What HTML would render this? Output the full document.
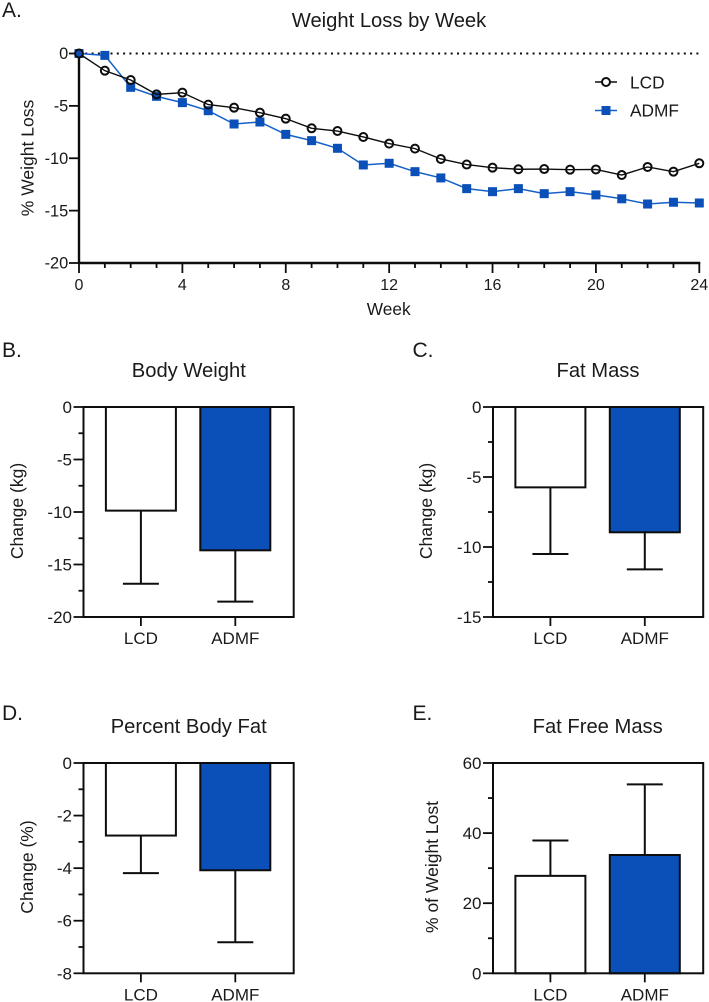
<!DOCTYPE html>
<html>
<head>
<meta charset="utf-8">
<style>
html,body{margin:0;padding:0;background:#fff;width:709px;height:1002px;overflow:hidden}
svg{display:block;filter:blur(0.3px)}
text{font-family:"Liberation Sans",Arial,sans-serif;fill:#1a1a1a}
</style>
</head>
<body>
<svg id="fig" xmlns="http://www.w3.org/2000/svg" width="709" height="1002" viewBox="0 0 709 1002"></svg>
<script>
const weeks = [0,1,2,3,4,5,6,7,8,9,10,11,12,13,14,15,16,17,18,19,20,21,22,23,24];
const lcdWeekly = [0,-1.64,-2.53,-3.9,-3.74,-4.88,-5.17,-5.65,-6.22,-7.14,-7.4,-7.97,-8.6,-9.08,-10.07,-10.6,-10.9,-11.05,-11.03,-11.09,-11.07,-11.6,-10.83,-11.28,-10.48];
const admfWeekly = [0,-0.18,-3.23,-4.09,-4.69,-5.46,-6.73,-6.54,-7.72,-8.32,-9.05,-10.64,-10.48,-11.28,-11.88,-12.9,-13.19,-12.9,-13.38,-13.19,-13.5,-13.87,-14.37,-14.2,-14.27];
const weekTicks = [0,4,8,12,16,20,24];
const lossTicks = [0,-5,-10,-15,-20];

const groups = ['LCD','ADMF'];
const bodyWeightMeans = [-9.87,-13.65];
const bodyWeightErrors = [-16.83,-18.54];
const bodyWeightTicks = [0,-5,-10,-15,-20];
const bodyWeightMinor = [-2.5,-7.5,-12.5,-17.5];
const fatMassMeans = [-5.74,-8.95];
const fatMassErrors = [-10.5,-11.6];
const fatMassTicks = [0,-5,-10,-15];
const fatMassMinor = [-2.5,-7.5,-12.5];
const pctFatMeans = [-2.76,-4.08];
const pctFatErrors = [-4.19,-6.82];
const pctFatTicks = [0,-2,-4,-6,-8];
const pctFatMinor = [-1,-3,-5,-7];
const ffmMeans = [27.8,33.75];
const ffmErrors = [37.9,53.9];
const ffmTicks = [0,20,40,60];
const ffmMinor = [10,30,50];

const BLUE = '#0a50b8';
const INK = '#0d0d0d';
const svg = document.getElementById('fig');
const NS = 'http://www.w3.org/2000/svg';

function make(tag, attrs, parent) {
  const el = document.createElementNS(NS, tag);
  for (const k in attrs) el.setAttribute(k, attrs[k]);
  (parent || svg).appendChild(el);
  return el;
}
function line(x1, y1, x2, y2, w, color, parent) {
  return make('line', {x1, y1, x2, y2, stroke: color || INK, 'stroke-width': w}, parent);
}
function label(str, x, y, size, anchor, parent) {
  const t = make('text', {x, y, 'font-size': size, 'text-anchor': anchor || 'middle'}, parent);
  t.textContent = str;
  return t;
}
function scale(d0, d1, r0, r1) {
  return v => r0 + (v - d0) * (r1 - r0) / (d1 - d0);
}

/* Panel letters and titles */
const panelLetters = [['A.',2,17],['B.',2,357],['C.',412.5,357],['D.',2,720],['E.',412.5,720]];
panelLetters.forEach(p => {
  const t = label(p[0], p[1], p[2], 21, 'start');
  
  
});

/* Panel A: line chart */
const xA = scale(0, 24, 79, 699.3);
const yA = scale(0, -20, 53.5, 263);

const panelA = make('g', {});



const titleA = label('Weight Loss by Week', 389, 27, 20.2, 'middle', panelA);



const zeroLine = make('line', {x1: xA(0), y1: yA(0), x2: xA(24), y2: yA(0), stroke: INK, 'stroke-width': 2, 'stroke-dasharray': '2 4.3'}, panelA);



const yAxisA = line(xA(0), yA(0) - 1, xA(0), yA(-20) + 1, 2.4, INK, panelA);


const xAxisA = line(xA(0) - 1, yA(-20), xA(24) + 1, yA(-20), 2.4, INK, panelA);



lossTicks.forEach(v => {
  const tick = line(xA(0) - 10, yA(v), xA(0), yA(v), 1.8, INK, panelA);
  
  
  const t = label(String(v), xA(0) - 10.7, yA(v) + 5.7, 16.4, 'end', panelA);
  
  
});
weeks.forEach(w => {
  const major = weekTicks.includes(w);
  const tick = line(xA(w), yA(-20), xA(w), yA(-20) + (major ? 10 : 5), 1.8, INK, panelA);
  
  
});
weekTicks.forEach(w => {
  const t = label(String(w), xA(w), yA(-20) + 27, 16, 'middle', panelA);
  
  
});

const xTitleA = label('Week', 388.7, 315, 17.3, 'middle', panelA);


const yTitleA = label('% Weight Loss', 0, 0, 17.5, 'middle', panelA);
yTitleA.setAttribute('transform', 'translate(33.3 158) rotate(-90)');



const admfLine = make('polyline', {points: weeks.map((w, i) => xA(w) + ',' + yA(admfWeekly[i])).join(' '), fill: 'none', stroke: '#1560c8', 'stroke-width': 1.5}, panelA);


weeks.forEach((w, i) => {
  const m = make('rect', {x: xA(w) - 4.5, y: yA(admfWeekly[i]) - 4.5, width: 9, height: 9, fill: BLUE}, panelA);
  
  
});
const lcdLine = make('polyline', {points: weeks.map((w, i) => xA(w) + ',' + yA(lcdWeekly[i])).join(' '), fill: 'none', stroke: INK, 'stroke-width': 1.4}, panelA);


weeks.forEach((w, i) => {
  const m = make('circle', {cx: xA(w), cy: yA(lcdWeekly[i]), r: 4, fill: i === 0 ? BLUE : 'none', stroke: INK, 'stroke-width': 2}, panelA);
  
  
});

/* Legend */
const legend = make('g', {}, panelA);


line(595, 82, 617, 82, 1.4, INK, legend);
make('circle', {cx: 606, cy: 82, r: 4, fill: '#fff', stroke: INK, 'stroke-width': 2}, legend);
const legendLcd = label('LCD', 630, 88.3, 17.3, 'start', legend);


line(595, 110.5, 617, 110.5, 1.5, '#1560c8', legend);
make('rect', {x: 601.5, y: 106, width: 9, height: 9, fill: BLUE}, legend);
const legendAdmf = label('ADMF', 630, 116.3, 17.3, 'start', legend);



/* Bar panels */
function barPanel(cfg) {
  const g = make('g', {});
  
  
  const y = scale(cfg.domain[0], cfg.domain[1], cfg.top, cfg.bottom);
  const L = cfg.left, R = L + 210.2;
  const centers = [L + 57.4, L + 151.8];
  const barW = 70;
  const base = y(0);

  const title = label(cfg.title, cfg.titleX, cfg.top - 30, 20.2, 'middle', g);
  
  

  groups.forEach((name, i) => {
    const cx = centers[i];
    const top = Math.min(y(cfg.means[i]), base);
    const h = Math.abs(y(cfg.means[i]) - base);
    const stem = line(cx, y(cfg.means[i]), cx, y(cfg.errors[i]), 2, INK, g);
    
    
    const cap = line(cx - 18, y(cfg.errors[i]), cx + 18, y(cfg.errors[i]), 2, INK, g);
    
    
    const bar = make('rect', {x: cx - barW / 2, y: top, width: barW, height: h, fill: i ? BLUE : '#fff', stroke: INK, 'stroke-width': 2}, g);
    
    
  });

  const frame = make('rect', {x: L, y: cfg.top, width: R - L, height: cfg.bottom - cfg.top, fill: 'none', stroke: INK, 'stroke-width': 2}, g);
  
  

  cfg.ticks.forEach(v => {
    const tick = line(L - 10, y(v), L, y(v), 1.8, INK, g);
    
    
    const t = label(String(v), L - 11.5, y(v) + 6, 17, 'end', g);
    
    
  });
  cfg.minor.forEach(v => {
    const tick = line(L - 5, y(v), L, y(v), 1.8, INK, g);
    
    
  });
  groups.forEach((name, i) => {
    const tick = line(centers[i], cfg.bottom, centers[i], cfg.bottom + 9, 1.8, INK, g);
    
    
    const t = label(name, centers[i], cfg.bottom + 27, 17, 'middle', g);
    
    
  });
  const yt = label(cfg.yTitle, 0, 0, 17.5, 'middle', g);
  yt.setAttribute('transform', 'translate(' + cfg.yTitleX + ' ' + cfg.yTitleY + ') rotate(-90)');
  
  
}

barPanel({name: 'body-weight-chart', title: 'Body Weight', titleX: 188.8, left: 83.5, top: 407, bottom: 617,
  domain: [0, -20], means: bodyWeightMeans, errors: bodyWeightErrors, ticks: bodyWeightTicks, minor: bodyWeightMinor,
  yTitle: 'Change (kg)', yTitleX: 23, yTitleY: 511});
barPanel({name: 'fat-mass-chart', title: 'Fat Mass', titleX: 598, left: 493, top: 407, bottom: 617,
  domain: [0, -15], means: fatMassMeans, errors: fatMassErrors, ticks: fatMassTicks, minor: fatMassMinor,
  yTitle: 'Change (kg)', yTitleX: 432, yTitleY: 511});
barPanel({name: 'percent-body-fat-chart', title: 'Percent Body Fat', titleX: 188.7, left: 83.5, top: 763, bottom: 973.3,
  domain: [0, -8], means: pctFatMeans, errors: pctFatErrors, ticks: pctFatTicks, minor: pctFatMinor,
  yTitle: 'Change (%)', yTitleX: 33, yTitleY: 867});
barPanel({name: 'fat-free-mass-chart', title: 'Fat Free Mass', titleX: 597.7, left: 493, top: 763, bottom: 973.3,
  domain: [60, 0], means: ffmMeans, errors: ffmErrors, ticks: ffmTicks, minor: ffmMinor,
  yTitle: '% of Weight Lost', yTitleX: 438, yTitleY: 867});
</script>
</body>
</html>
